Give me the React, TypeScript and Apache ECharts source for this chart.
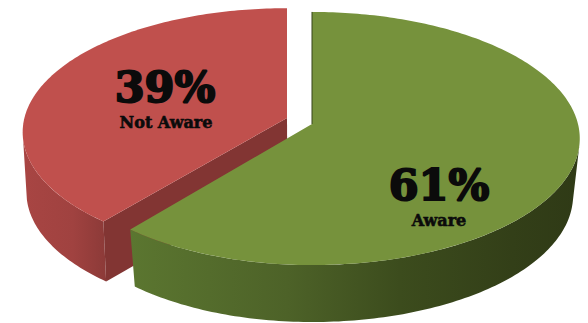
import React, { useEffect, useRef } from "react";
import * as echarts from "echarts";

const labels = ["Not Aware", "Aware"];
const shares = [39, 61];
const topColors = ["#c0504d", "#76923c"];
const INK = "#0b0b0b";
const TEXT_FONT = "'DejaVu Serif'";

// Perspective disc: a unit circle projected so that its centre sits above the rim ellipse's middle.
const CX = 312;
const CY = 124;
const SCALE_X_RIGHT = 266;
const SCALE_X_LEFT = 260;
const SCALE_Y = 124.9;
const TILT = 0.1145;
// Where the rim's silhouette meets the vertical wall on each side of the disc.
const WALL_TANGENT_RIGHT = 100;
const WALL_TANGENT_LEFT = 260;

const EXPLODE: Record<string, { dx: number; dy: number; sx: number; sy: number; depth: number; shrink: number }> = {
  "Not Aware": { dx: -25, dy: -6, sx: 1.01, sy: 0.98, depth: 60, shrink: 0.987 },
  Aware: { dx: 0, dy: 0, sx: 1, sy: 1, depth: 57, shrink: 0.975 },
};
const TEXT_AT: Record<string, { big: [number, number]; small: [number, number] }> = {
  "Not Aware": { big: [165, 87], small: [166, 122] },
  Aware: { big: [439, 185], small: [439, 220] },
};

type Pt = [number, number];

function rim(deg: number): Pt {
  const a = (deg * Math.PI) / 180;
  const u = Math.sin(a);
  const v = -Math.cos(a);
  const w = 1 - TILT * v;
  const sx = u < 0 ? SCALE_X_LEFT : SCALE_X_RIGHT;
  return [CX + (sx * u) / w, CY + (SCALE_Y * v) / w];
}

function base(p: Pt, name: string): Pt {
  const e = EXPLODE[name];
  return [CX + (p[0] - CX) * e.shrink, p[1] + e.depth];
}

function arcPoints(from: number, to: number): Pt[] {
  const pts: Pt[] = [];
  const n = Math.max(2, Math.ceil(Math.abs(to - from)));
  for (let i = 0; i <= n; i++) pts.push(rim(from + ((to - from) * i) / n));
  return pts;
}

// Moves a slice out of the disc, scaling it around the disc centre first.
function place(pts: Pt[], name: string): Pt[] {
  const e = EXPLODE[name];
  return pts.map(
    (p) => [CX + (p[0] - CX) * e.sx + e.dx, CY + (p[1] - CY) * e.sy + e.dy] as Pt
  );
}

function sideGradient(stops: [number, string][]) {
  return new echarts.graphic.LinearGradient(
    0,
    0,
    1,
    0,
    stops.map(([offset, color]) => ({ offset, color }))
  );
}

const sideFills: Record<string, () => unknown> = {
  "Not Aware": () =>
    sideGradient([
      [0, "#a84543"],
      [0.6, "#a04240"],
      [1, "#8c3a38"],
    ]),
  Aware: () =>
    sideGradient([
      [0, "#5b7630"],
      [0.35, "#4d6228"],
      [0.6, "#3c4c1d"],
      [0.85, "#333f18"],
      [1, "#2f3a16"],
    ]),
};

export default function App() {
  const ref = useRef<HTMLDivElement>(null);

  useEffect(() => {
    if (!ref.current) return;
    const chart = echarts.init(ref.current, undefined, { renderer: "svg" });
    const total = shares.reduce((a, b) => a + b, 0);

    chart.setOption({
      animation: false,
      backgroundColor: "#ffffff",
      series: [
        {
          type: "custom",
          coordinateSystem: "none",
          silent: true,
          // Second item is the large slice starting at 12 o'clock; the first fills the remainder.
          data: shares.map((v, i) => [v, i]),
          renderItem: (_params: unknown, api: any) => {
            const value = api.value(0) as number;
            const index = api.value(1) as number;
            const name = labels[index];
            const sweep = (value / total) * 360;
            const first = (shares[1] / total) * 360;
            const start = index === 1 ? 0 : first;
            const end = start + sweep;
            const edge = place(arcPoints(start, end), name);
            const apex = place([[CX, CY]], name)[0];
            const anchor = TEXT_AT[name];
            const toBase = (p: Pt) => base(p, name);

            const children: any[] = [];
            if (index === 0) {
              // Curved outer wall, then the radial cut face that turns toward the viewer.
              const visible = place(arcPoints(start, WALL_TANGENT_LEFT), name);
              children.push({
                type: "polygon",
                shape: { points: visible.concat(visible.map(toBase).reverse()) },
                style: { fill: sideFills[name]() },
              });
              const corner = edge[0];
              children.push({
                type: "polygon",
                shape: { points: [apex, corner, toBase(corner), toBase(apex)] },
                style: { fill: "#823533" },
              });
            } else {
              const visible = place(arcPoints(WALL_TANGENT_RIGHT, end), name);
              children.push({
                type: "polygon",
                shape: { points: visible.concat(visible.map(toBase).reverse()) },
                style: { fill: sideFills[name]() },
              });
            }
            children.push({
              type: "polygon",
              shape: { points: [apex, ...edge] },
              style: { fill: topColors[index] },
            });
            if (index === 1) {
              children.push({
                type: "line",
                shape: { x1: apex[0], y1: apex[1], x2: edge[0][0], y2: edge[0][1] },
                style: { stroke: "#36451b", lineWidth: 1 },
              });
            }
            children.push({
              type: "text",
              style: {
                x: anchor.big[0],
                y: anchor.big[1],
                text: `${value}%`,
                font: `bold 43px ${TEXT_FONT}`,
                fill: INK,
                stroke: INK,
                lineWidth: 2,
                align: "center",
                verticalAlign: "middle",
              },
            });
            children.push({
              type: "text",
              style: {
                x: anchor.small[0],
                y: anchor.small[1],
                text: name,
                font: `bold 16px ${TEXT_FONT}`,
                fill: INK,
                stroke: INK,
                lineWidth: 0.6,
                align: "center",
                verticalAlign: "middle",
              },
            });
            return { type: "group", children };
          },
        },
      ],
    });

    return () => chart.dispose();
  }, []);

  return <div ref={ref} style={{ position: "fixed", left: 0, top: 0, width: 588, height: 323 }} />;
}
